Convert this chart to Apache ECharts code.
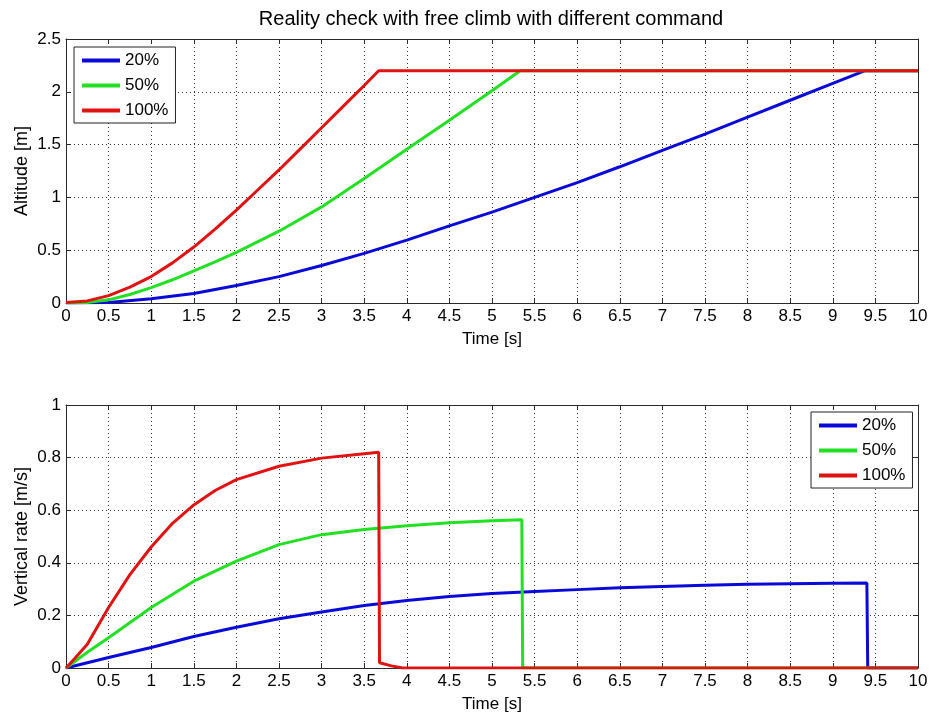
<!DOCTYPE html>
<html>
<head>
<meta charset="utf-8">
<title>Reality check with free climb with different command</title>
<script src="https://cdn.jsdelivr.net/npm/echarts@6/dist/echarts.min.js"></script>
<style>
  html, body { margin: 0; padding: 0; background: #fff; }
  #chart { width: 935px; height: 714px; }
</style>
</head>
<body>
<div id="chart"></div>
<script>
// Commands flown
const commands = ['20%', '50%', '100%'];
const colors = ['#0a0ad8', '#22e022', '#e01212'];

// Altitude [m] vs time [s]
const altTime20 = [0, 0.5, 1, 1.5, 2, 2.5, 3, 3.5, 4, 4.5, 5, 5.5, 6, 6.5, 7, 7.5, 8, 8.5, 9, 9.38, 10];
const alt20     = [0, 0.005, 0.04, 0.09, 0.165, 0.25, 0.355, 0.47, 0.595, 0.73, 0.86, 1.0, 1.14, 1.29, 1.445, 1.6, 1.76, 1.92, 2.08, 2.2, 2.2];
const altTime50 = [0, 0.25, 0.5, 0.75, 1, 1.25, 1.5, 1.75, 2, 2.5, 3, 3.5, 4, 4.5, 5, 5.33, 10];
const alt50     = [0, 0.005, 0.03, 0.08, 0.145, 0.22, 0.305, 0.39, 0.48, 0.68, 0.91, 1.18, 1.455, 1.73, 2.01, 2.2, 2.2];
const altTime100 = [0, 0.25, 0.5, 0.75, 1, 1.25, 1.5, 1.75, 2, 2.25, 2.5, 2.75, 3, 3.25, 3.5, 3.67, 10];
const alt100     = [0.005, 0.02, 0.07, 0.15, 0.25, 0.38, 0.53, 0.7, 0.88, 1.07, 1.26, 1.46, 1.66, 1.86, 2.06, 2.2, 2.2];

// Vertical rate [m/s] vs time [s]
const rateTime20 = [0, 0.5, 1, 1.5, 2, 2.5, 3, 3.5, 4, 4.5, 5, 5.5, 6, 6.5, 7, 7.5, 8, 8.5, 9, 9.4, 9.41, 10];
const rate20     = [0, 0.04, 0.078, 0.12, 0.155, 0.187, 0.213, 0.238, 0.257, 0.272, 0.283, 0.291, 0.298, 0.305, 0.31, 0.315, 0.318, 0.32, 0.322, 0.323, 0, 0];
const rateTime50 = [0, 0.25, 0.5, 1, 1.5, 2, 2.5, 3, 3.5, 4, 4.5, 5, 5.35, 5.36, 10];
const rate50     = [0, 0.06, 0.115, 0.23, 0.33, 0.406, 0.469, 0.507, 0.527, 0.541, 0.552, 0.56, 0.564, 0, 0];
const rateTime100 = [0, 0.1, 0.25, 0.5, 0.75, 1, 1.25, 1.5, 1.75, 2, 2.5, 3, 3.5, 3.67, 3.68, 3.82, 3.95, 10];
const rate100     = [0, 0.035, 0.09, 0.23, 0.355, 0.46, 0.55, 0.62, 0.675, 0.716, 0.767, 0.798, 0.815, 0.82, 0.02, 0.008, 0, 0];

// Axis ranges
const timeRange = { min: 0, max: 10, interval: 0.5 };
const altRange  = { min: 0, max: 2.5, interval: 0.5 };
const rateRange = { min: 0, max: 1, interval: 0.2 };

const FONT = 'Liberation Sans, Arial, Helvetica, sans-serif';
const AXIS_COLOR = '#2a2a2a';

function pairs(ts, vs) { return ts.map((t, i) => [t, vs[i]]); }

function xAxisDef(gridIndex, pos, labelled) {
  return {
    type: 'value', gridIndex, position: pos,
    min: timeRange.min, max: timeRange.max, interval: timeRange.interval,
    name: labelled ? 'Time [s]' : '', nameLocation: 'middle', nameGap: 28,
    nameTextStyle: { fontFamily: FONT, fontSize: 17, color: '#000' },
    axisLine: { show: true, onZero: false, lineStyle: { color: AXIS_COLOR, width: 1 } },
    axisTick: { show: true, inside: true, length: 5, lineStyle: { color: AXIS_COLOR } },
    axisLabel: { show: labelled, fontFamily: FONT, fontSize: 17, color: '#000', margin: 5,
                 showMinLabel: true, showMaxLabel: true },
    splitLine: { show: labelled, lineStyle: { color: '#333', type: [1, 3], width: 1 } }
  };
}

function yAxisDef(gridIndex, pos, range, name, labelled) {
  return {
    type: 'value', gridIndex, position: pos,
    min: range.min, max: range.max, interval: range.interval,
    name: labelled ? name : '', nameLocation: 'middle', nameGap: 35, nameMoveOverlap: false,
    nameTextStyle: { fontFamily: FONT, fontSize: 18, color: '#000' },
    axisLine: { show: true, onZero: false, lineStyle: { color: AXIS_COLOR, width: 1 } },
    axisTick: { show: true, inside: true, length: 5, lineStyle: { color: AXIS_COLOR } },
    axisLabel: { show: labelled, fontFamily: FONT, fontSize: 17, color: '#000', margin: 5,
                 showMinLabel: true, showMaxLabel: true },
    splitLine: { show: labelled, lineStyle: { color: '#333', type: [1, 3], width: 1 } }
  };
}

function lineSeries(i, xIdx, yIdx, data) {
  return {
    type: 'line', name: commands[i], xAxisIndex: xIdx, yAxisIndex: yIdx,
    data, showSymbol: false, symbol: 'none', smooth: false,
    lineStyle: { color: colors[i], width: 3 }, itemStyle: { color: colors[i] },
    animation: false
  };
}

function legendDef(left, top) {
  return {
    data: commands, orient: 'vertical', left, top,
    icon: 'rect', itemWidth: 38, itemHeight: 4, itemGap: 8,
    padding: [5, 7, 4, 8],
    backgroundColor: '#fff', borderColor: '#222', borderWidth: 1,
    textStyle: { fontFamily: FONT, fontSize: 17, color: '#000', lineHeight: 16 },
    selectedMode: false
  };
}

const chart = echarts.init(document.getElementById('chart'), null, { renderer: 'canvas' });

chart.setOption({
  backgroundColor: '#fff',
  animation: false,
  title: {
    text: 'Reality check with free climb with different command',
    left: 486, top: 4, textAlign: 'center',
    textStyle: { fontFamily: FONT, fontSize: 20, fontWeight: 'normal', color: '#000' }
  },
  legend: [legendDef(74, 47), legendDef(811, 412)],
  grid: [
    { left: 66, right: 17, top: 39, height: 264 },
    { left: 66, right: 17, top: 405, height: 263 }
  ],
  xAxis: [
    xAxisDef(0, 'bottom', true), xAxisDef(0, 'top', false),
    xAxisDef(1, 'bottom', true), xAxisDef(1, 'top', false)
  ],
  yAxis: [
    yAxisDef(0, 'left', altRange, 'Altitude [m]', true), yAxisDef(0, 'right', altRange, '', false),
    yAxisDef(1, 'left', rateRange, 'Vertical rate [m/s]', true), yAxisDef(1, 'right', rateRange, '', false)
  ],
  series: [
    lineSeries(0, 0, 0, pairs(altTime20, alt20)),
    lineSeries(1, 0, 0, pairs(altTime50, alt50)),
    lineSeries(2, 0, 0, pairs(altTime100, alt100)),
    lineSeries(0, 2, 2, pairs(rateTime20, rate20)),
    lineSeries(1, 2, 2, pairs(rateTime50, rate50)),
    lineSeries(2, 2, 2, pairs(rateTime100, rate100))
  ]
});
</script>
</body>
</html>
